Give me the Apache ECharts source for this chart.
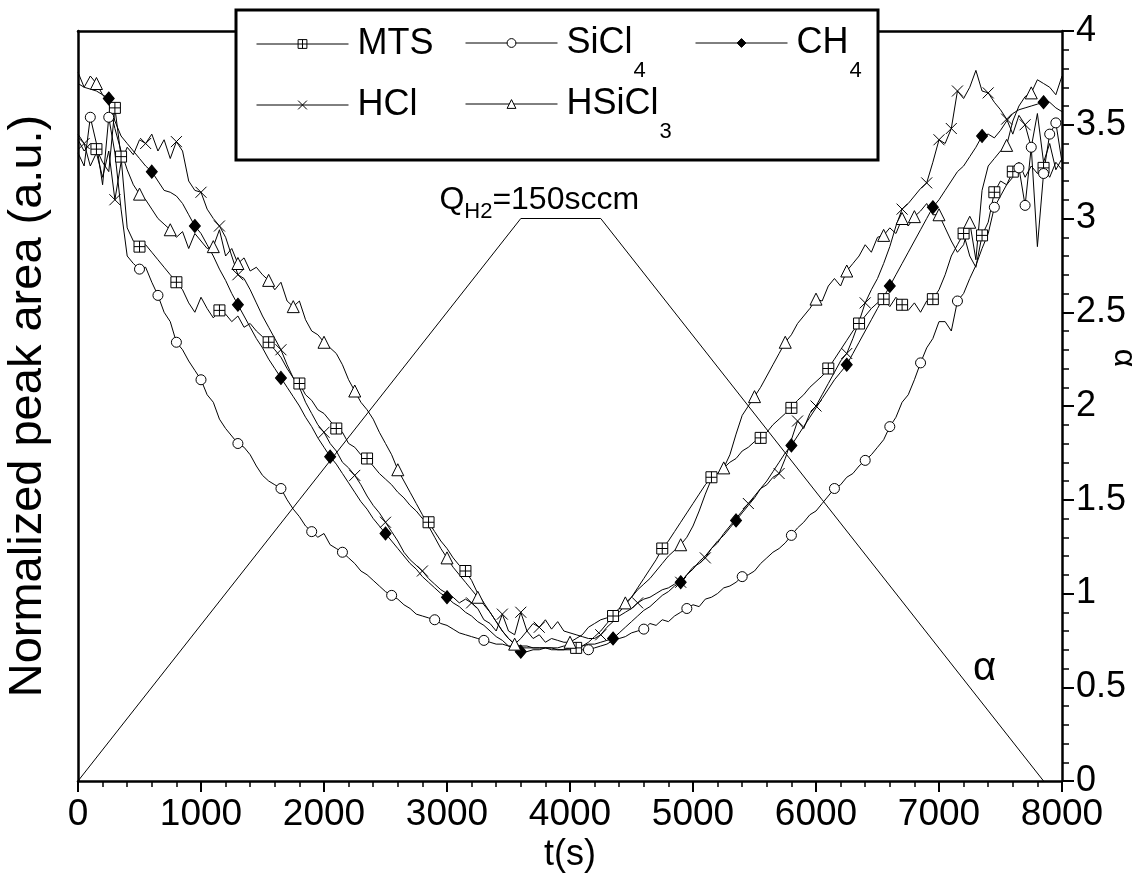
<!DOCTYPE html>
<html>
<head>
<meta charset="utf-8">
<script src="https://cdn.jsdelivr.net/npm/echarts@6/dist/echarts.min.js"></script>
<style>
  html, body { margin: 0; padding: 0; background: #fff; }
  #chart { width: 1138px; height: 877px; }
</style>
</head>
<body>
<div id="chart"></div>
<script>
// Sampling times (s)
const times = [
  0, 50, 100, 150, 200, 250, 300, 350, 400, 450,
  500, 550, 600, 650, 700, 750, 800, 850, 900, 950,
  1000, 1050, 1100, 1150, 1200, 1250, 1300, 1350, 1400, 1450,
  1500, 1550, 1600, 1650, 1700, 1750, 1800, 1850, 1900, 1950,
  2000, 2050, 2100, 2150, 2200, 2250, 2300, 2350, 2400, 2450,
  2500, 2550, 2600, 2650, 2700, 2750, 2800, 2850, 2900, 2950,
  3000, 3050, 3100, 3150, 3200, 3250, 3300, 3350, 3400, 3450,
  3500, 3550, 3600, 3650, 3700, 3750, 3800, 3850, 3900, 3950,
  4000, 4050, 4100, 4150, 4200, 4250, 4300, 4350, 4400, 4450,
  4500, 4550, 4600, 4650, 4700, 4750, 4800, 4850, 4900, 4950,
  5000, 5050, 5100, 5150, 5200, 5250, 5300, 5350, 5400, 5450,
  5500, 5550, 5600, 5650, 5700, 5750, 5800, 5850, 5900, 5950,
  6000, 6050, 6100, 6150, 6200, 6250, 6300, 6350, 6400, 6450,
  6500, 6550, 6600, 6650, 6700, 6750, 6800, 6850, 6900, 6950,
  7000, 7050, 7100, 7150, 7200, 7250, 7300, 7350, 7400, 7450,
  7500, 7550, 7600, 7650, 7700, 7750, 7800, 7850, 7900, 7950,
  8000
];

// Normalized peak areas (a.u.)
const mts = [
  3.42, 3.36, 3.40, 3.37, 3.30, 3.25, 3.59, 3.33, 2.95, 2.88,
  2.85, 2.86, 2.82, 2.78, 2.74, 2.70, 2.66, 2.62, 2.55, 2.50,
  2.58, 2.52, 2.47, 2.51, 2.49, 2.45, 2.48, 2.42, 2.44, 2.40,
  2.37, 2.34, 2.30, 2.26, 2.20, 2.15, 2.12, 2.06, 2.03, 1.98,
  1.96, 1.92, 1.88, 1.86, 1.80, 1.78, 1.74, 1.72, 1.68, 1.64,
  1.61, 1.58, 1.54, 1.51, 1.47, 1.44, 1.40, 1.38, 1.33, 1.28,
  1.24, 1.19, 1.15, 1.12, 1.07, 1.00, 0.95, 0.90, 0.85, 0.80,
  0.76, 0.73, 0.72, 0.72, 0.71, 0.71, 0.71, 0.70, 0.70, 0.70,
  0.71, 0.71, 0.72, 0.74, 0.77, 0.80, 0.84, 0.88, 0.90, 0.94,
  0.98, 1.03, 1.08, 1.13, 1.18, 1.24, 1.28, 1.33, 1.38, 1.43,
  1.48, 1.53, 1.58, 1.62, 1.64, 1.67, 1.70, 1.72, 1.76, 1.78,
  1.81, 1.83, 1.86, 1.90, 1.93, 1.96, 1.99, 2.03, 2.06, 2.10,
  2.13, 2.16, 2.20, 2.25, 2.30, 2.35, 2.40, 2.44, 2.48, 2.52,
  2.55, 2.57, 2.53, 2.58, 2.54, 2.51, 2.55, 2.50, 2.56, 2.57,
  2.62, 2.70, 2.80, 2.86, 2.92, 2.80, 2.74, 2.91, 2.98, 3.14,
  3.20, 3.18, 3.25, 3.30, 3.22, 3.28, 3.24, 3.27, 3.22, 3.30,
  3.26
];
const sicl4 = [
  3.35, 3.28, 3.54, 3.40, 3.18, 3.54, 3.35, 3.05, 2.80, 2.76,
  2.73, 2.74, 2.66, 2.59, 2.50, 2.45, 2.34, 2.30, 2.24, 2.19,
  2.14, 2.06, 2.02, 1.93, 1.88, 1.84, 1.80, 1.78, 1.74, 1.68,
  1.63, 1.60, 1.58, 1.56, 1.50, 1.45, 1.41, 1.36, 1.33, 1.30,
  1.32, 1.26, 1.24, 1.22, 1.19, 1.16, 1.12, 1.10, 1.07, 1.04,
  1.01, 0.99, 0.97, 0.94, 0.92, 0.89, 0.88, 0.87, 0.86, 0.84,
  0.83, 0.81, 0.79, 0.78, 0.77, 0.76, 0.75, 0.74, 0.73, 0.73,
  0.72, 0.72, 0.71, 0.71, 0.71, 0.71, 0.71, 0.71, 0.70, 0.70,
  0.70, 0.70, 0.70, 0.70, 0.71, 0.72, 0.73, 0.75, 0.76, 0.77,
  0.79, 0.80, 0.81, 0.84, 0.83, 0.86, 0.85, 0.88, 0.90, 0.92,
  0.94, 0.93, 0.97, 0.98, 1.00, 1.03, 1.04, 1.06, 1.09, 1.10,
  1.12, 1.16, 1.19, 1.22, 1.24, 1.27, 1.31, 1.35, 1.38, 1.42,
  1.44, 1.48, 1.52, 1.56, 1.58, 1.62, 1.64, 1.68, 1.71, 1.74,
  1.78, 1.82, 1.89, 1.94, 2.02, 2.06, 2.14, 2.23, 2.31, 2.36,
  2.45, 2.45, 2.40, 2.56, 2.60, 2.68, 2.75, 2.84, 2.92, 3.06,
  3.12, 3.18, 3.22, 3.27, 3.07, 3.38, 2.85, 3.24, 3.45, 3.51,
  3.30
];
const ch4 = [
  3.72, 3.70, 3.69, 3.68, 3.66, 3.64, 3.52, 3.44, 3.40, 3.36,
  3.32, 3.28, 3.25, 3.20, 3.15, 3.14, 3.12, 3.08, 3.02, 2.96,
  2.92, 2.86, 2.80, 2.73, 2.67, 2.60, 2.54, 2.48, 2.42, 2.36,
  2.31, 2.25, 2.20, 2.15, 2.10, 2.05, 2.00, 1.94, 1.89, 1.83,
  1.78, 1.73, 1.69, 1.64, 1.59, 1.54, 1.49, 1.45, 1.40, 1.36,
  1.32, 1.28, 1.24, 1.20, 1.16, 1.13, 1.09, 1.06, 1.03, 1.00,
  0.98, 0.95, 0.93, 0.90, 0.88, 0.85, 0.83, 0.80, 0.77, 0.75,
  0.72, 0.70, 0.69, 0.69, 0.70, 0.70, 0.71, 0.71, 0.71, 0.72,
  0.72, 0.72, 0.72, 0.73, 0.73, 0.74, 0.75, 0.76, 0.79, 0.82,
  0.85, 0.88, 0.91, 0.93, 0.96, 0.99, 1.01, 1.04, 1.06, 1.10,
  1.13, 1.17, 1.20, 1.24, 1.28, 1.31, 1.35, 1.39, 1.43, 1.47,
  1.51, 1.56, 1.60, 1.65, 1.70, 1.75, 1.79, 1.84, 1.89, 1.94,
  1.99, 2.04, 2.09, 2.14, 2.18, 2.22, 2.28, 2.34, 2.40, 2.46,
  2.52, 2.58, 2.64, 2.70, 2.76, 2.82, 2.88, 2.94, 3.00, 3.06,
  3.10, 3.15, 3.20, 3.25, 3.28, 3.33, 3.38, 3.44, 3.45, 3.43,
  3.47, 3.52, 3.56, 3.58, 3.59, 3.60, 3.61, 3.62, 3.62, 3.59,
  3.57
];
const hcl = [
  3.45, 3.40, 3.28, 3.35, 3.22, 3.36, 3.10, 3.30, 3.38, 3.34,
  3.42, 3.40, 3.45, 3.36, 3.42, 3.32, 3.41, 3.36, 3.20, 3.15,
  3.14, 3.05, 3.00, 2.96, 2.90, 2.80, 2.70, 2.68, 2.62, 2.55,
  2.48, 2.42, 2.36, 2.30, 2.22, 2.15, 2.10, 2.02, 1.96, 1.90,
  1.86, 1.80, 1.76, 1.70, 1.67, 1.63, 1.58, 1.52, 1.47, 1.43,
  1.38, 1.33, 1.28, 1.22, 1.18, 1.15, 1.12, 1.08, 1.05, 1.02,
  1.00, 0.98, 0.95, 0.97, 0.95, 0.92, 0.86, 0.84, 0.80, 0.89,
  0.80, 0.78, 0.90, 0.80, 0.84, 0.82, 0.86, 0.81, 0.85, 0.80,
  0.79, 0.78, 0.77, 0.76, 0.76, 0.78, 0.82, 0.85, 0.88, 0.90,
  0.92, 0.95, 0.97, 0.98, 1.00, 1.02, 1.03, 1.05, 1.06, 1.10,
  1.14, 1.16, 1.19, 1.24, 1.27, 1.32, 1.36, 1.40, 1.44, 1.48,
  1.52, 1.56, 1.58, 1.62, 1.64, 1.72, 1.82, 1.92, 1.88, 1.96,
  2.00, 2.06, 2.12, 2.18, 2.24, 2.28, 2.36, 2.45, 2.55, 2.62,
  2.68, 2.76, 2.85, 2.96, 3.05, 3.08, 3.12, 3.16, 3.19, 3.30,
  3.42, 3.40, 3.48, 3.68, 3.64, 3.70, 3.79, 3.68, 3.67, 3.62,
  3.58, 3.53, 3.45, 3.55, 3.50, 3.38, 3.56, 3.30, 3.40, 3.26,
  3.32
];
const hsicl3 = [
  3.78, 3.70, 3.76, 3.72, 3.66, 3.62, 3.48, 3.36, 3.26, 3.18,
  3.13, 3.10, 3.05, 3.00, 2.97, 2.94, 2.90, 2.93, 2.84, 2.92,
  2.88, 2.84, 2.85, 2.94, 2.80, 2.84, 2.76, 2.79, 2.72, 2.74,
  2.70, 2.67, 2.62, 2.66, 2.56, 2.53, 2.56, 2.46, 2.40, 2.38,
  2.34, 2.31, 2.28, 2.22, 2.14, 2.08, 2.02, 1.98, 1.93, 1.86,
  1.80, 1.74, 1.66, 1.60, 1.54, 1.48, 1.42, 1.36, 1.30, 1.24,
  1.19, 1.14, 1.10, 1.06, 1.02, 0.98, 0.94, 0.90, 0.85, 0.80,
  0.76, 0.73, 0.76, 0.80, 0.76, 0.78, 0.74, 0.76, 0.75, 0.74,
  0.74, 0.76, 0.78, 0.82, 0.84, 0.86, 0.87, 0.89, 0.92, 0.95,
  0.98, 1.02, 1.05, 1.08, 1.12, 1.16, 1.20, 1.23, 1.26, 1.30,
  1.36, 1.44, 1.53, 1.61, 1.64, 1.67, 1.74, 1.85, 1.95, 2.00,
  2.05, 2.10, 2.16, 2.22, 2.28, 2.34, 2.38, 2.44, 2.48, 2.52,
  2.57, 2.56, 2.64, 2.68, 2.64, 2.72, 2.76, 2.80, 2.86, 2.82,
  2.90, 2.91, 2.95, 2.92, 3.00, 2.96, 3.01, 3.04, 3.08, 3.02,
  3.02, 2.95, 2.88, 2.82, 2.86, 2.98, 2.78, 3.15, 3.28, 3.32,
  3.36, 3.39, 3.52, 3.60, 3.65, 3.67, 3.74, 3.72, 3.70, 3.66,
  3.76
];

// Times at which each curve carries a symbol
const mtsMarks = [150, 300, 350, 500, 800, 1150, 1550, 1800, 2100, 2350, 2850, 3150, 4050, 4350, 4750, 5150, 5550, 5800, 6100, 6350, 6550, 6700, 6950, 7200, 7350, 7450, 7600, 7850];
const sicl4Marks = [100, 250, 500, 650, 800, 1000, 1300, 1650, 1900, 2150, 2550, 2900, 3300, 4150, 4600, 4950, 5400, 5800, 6150, 6400, 6600, 6850, 7150, 7450, 7650, 7700, 7750, 7850, 7900, 7950];
const ch4Marks = [250, 600, 950, 1300, 1650, 2050, 2500, 3000, 3600, 4350, 4900, 5350, 5800, 6250, 6600, 6950, 7350, 7850];
const hclMarks = [50, 300, 550, 800, 1000, 1150, 1300, 1650, 2000, 2250, 2500, 2800, 3200, 3450, 3600, 3750, 4250, 4550, 4900, 5100, 5450, 5700, 5850, 6000, 6250, 6400, 6700, 6900, 7000, 7100, 7150, 7400, 7550, 7700];
const hsicl3Marks = [150, 500, 750, 1100, 1300, 1550, 1750, 2000, 2250, 2600, 3000, 3250, 3550, 4000, 4450, 4900, 5250, 5500, 5750, 6000, 6250, 6550, 6700, 6800, 7000, 7250, 7550, 7750];

// H2 flow ratio alpha (right axis)
const alphaT = [0, 3600, 4250, 7850];
const alphaV = [0, 3, 3, 0];

// Axis ticks
const xTicks = { min: 0, max: 8000, step: 1000 };
const yTicks = { min: 0, max: 4, step: 0.5 };

const FONT = '"Liberation Sans", Arial, Helvetica, sans-serif';

const SYM_MTS = 'path://M0,0H10V10H0Z M5,0V10 M0,5H10';
const SYM_X = 'path://M0,0L10,10M10,0L0,10';

function buildData(values, marks) {
  return times.map((t, i) =>
    marks.indexOf(t) >= 0 ? [t, values[i]] : { value: [t, values[i]], symbol: 'none' }
  );
}

function gasSeries(name, values, marks, symbol, size, fill) {
  return {
    name: name,
    type: 'line',
    xAxisIndex: 0,
    yAxisIndex: 0,
    data: buildData(values, marks),
    symbol: symbol,
    symbolSize: size,
    showSymbol: true,
    showAllSymbol: true,
    lineStyle: { color: '#000', width: 1 },
    itemStyle: { color: fill, borderColor: '#000', borderWidth: 1 },
    z: 3
  };
}

const series = [
  gasSeries('MTS', mts, mtsMarks, SYM_MTS, 11, '#fff'),
  gasSeries('SiCl4', sicl4, sicl4Marks, 'circle', 10, '#fff'),
  gasSeries('CH4', ch4, ch4Marks, 'diamond', [11, 13], '#000'),
  gasSeries('HCl', hcl, hclMarks, SYM_X, 11, '#fff'),
  gasSeries('HSiCl3', hsicl3, hsicl3Marks, 'triangle', 12, '#fff'),
  {
    name: 'alpha',
    type: 'line',
    xAxisIndex: 0,
    yAxisIndex: 1,
    data: alphaT.map((t, i) => [t, alphaV[i]]),
    symbol: 'none',
    lineStyle: { color: '#000', width: 1 },
    z: 2,
    markPoint: {
      symbol: 'rect',
      symbolSize: 1,
      itemStyle: { color: 'rgba(0,0,0,0)' },
      label: {
        show: true,
        position: 'inside',
        color: '#000',
        fontFamily: FONT,
        rich: {
          q: { fontSize: 32, lineHeight: 36, fontFamily: FONT, color: '#000', verticalAlign: 'middle' },
          s: { fontSize: 22, lineHeight: 24, padding: [24, 0, 0, 0], fontFamily: FONT, color: '#000', verticalAlign: 'middle' },
          a: { fontSize: 40, lineHeight: 44, fontFamily: FONT, color: '#000' }
        }
      },
      data: [
        { coord: [3750, 3.1], label: { formatter: '{q|Q}{s|H2}{q|=150sccm}' } },
        { coord: [7370, 0.6], label: { formatter: '{a|α}' } }
      ]
    }
  }
];

// Legend entries, laid out in three columns
const legendText = {
  'MTS': '{m|MTS}',
  'SiCl4': '{m|SiCl}{u|4}',
  'CH4': '{m|CH}{u|4}',
  'HCl': '{m|HCl}',
  'HSiCl3': '{m|HSiCl}{u|3}'
};
const legendRich = {
  m: { fontSize: 36, lineHeight: 36, fontFamily: FONT, color: '#000', padding: [0, 0, 0, 4], verticalAlign: 'middle' },
  u: { fontSize: 22, lineHeight: 24, fontFamily: FONT, color: '#000', padding: [56, 0, 0, 1], verticalAlign: 'middle' }
};
const legendSlots = [
  { name: 'MTS', left: 256, top: 26, fill: '#fff' },
  { name: 'SiCl4', left: 465, top: 4, fill: '#fff' },
  { name: 'CH4', left: 695, top: 4, fill: '#000' },
  { name: 'HCl', left: 256, top: 87, fill: '#fff' },
  { name: 'HSiCl3', left: 465, top: 65, fill: '#fff' }
];
const legends = legendSlots.map(s => ({
  data: [s.name],
  left: s.left,
  top: s.top,
  padding: 0,
  itemWidth: 92,
  itemHeight: 11,
  selectedMode: false,
  z: 10,
  formatter: n => legendText[n],
  textStyle: { rich: legendRich, fontFamily: FONT, fontSize: 36, color: '#000' },
  itemStyle: { color: s.fill, borderColor: '#000', borderWidth: 1 },
  lineStyle: { color: '#000', width: 1 }
}));

const axisLineStyle = { color: '#000', width: 2.5 };
const plainNumber = v => String(v);

const option = {
  animation: false,
  backgroundColor: '#fff',
  grid: { left: 78, right: 76, top: 31, bottom: 96, containLabel: false, outerBoundsMode: 'none' },
  legend: legends,
  graphic: [
    {
      type: 'rect',
      z: 9,
      shape: { x: 236, y: 10, width: 642, height: 150 },
      style: { fill: '#fff', stroke: '#000', lineWidth: 3 }
    }
  ],
  xAxis: [
    {
      type: 'value',
      position: 'bottom',
      min: xTicks.min,
      max: xTicks.max,
      interval: xTicks.step,
      name: 't(s)',
      nameLocation: 'middle',
      nameGap: 56,
      nameMoveOverlap: false,
      nameTextStyle: { fontSize: 36, fontFamily: FONT, color: '#000' },
      axisLine: { show: true, onZero: false, lineStyle: axisLineStyle },
      axisTick: { show: true, inside: false, length: 11, lineStyle: { color: '#000', width: 2 } },
      minorTick: { show: true, splitNumber: 5, length: 6, lineStyle: { color: '#000', width: 1.5 } },
      axisLabel: { fontSize: 37, fontFamily: FONT, color: '#000', margin: 15, formatter: plainNumber },
      splitLine: { show: false },
      minorSplitLine: { show: false }
    },
    {
      type: 'value',
      position: 'top',
      min: xTicks.min,
      max: xTicks.max,
      axisLine: { show: true, onZero: false, lineStyle: axisLineStyle },
      axisTick: { show: false },
      axisLabel: { show: false },
      splitLine: { show: false }
    }
  ],
  yAxis: [
    {
      type: 'value',
      position: 'left',
      min: yTicks.min,
      max: yTicks.max,
      interval: yTicks.step,
      name: 'Normalized peak area (a.u.)',
      nameLocation: 'middle',
      nameGap: 26,
      nameMoveOverlap: false,
      nameTextStyle: { fontSize: 47, fontFamily: FONT, color: '#000' },
      axisLine: { show: true, onZero: false, lineStyle: axisLineStyle },
      axisTick: { show: false },
      axisLabel: { show: false },
      splitLine: { show: false }
    },
    {
      type: 'value',
      position: 'right',
      min: yTicks.min,
      max: yTicks.max,
      interval: yTicks.step,
      name: 'α',
      nameLocation: 'middle',
      nameGap: 46,
      nameRotate: -90,
      nameMoveOverlap: false,
      nameTextStyle: { fontSize: 32, fontFamily: FONT, color: '#000', padding: [0, 96, 0, 0] },
      axisLine: { show: true, onZero: false, lineStyle: axisLineStyle },
      axisTick: { show: true, inside: false, length: 12, lineStyle: { color: '#000', width: 2 } },
      minorTick: { show: true, splitNumber: 5, length: 7, lineStyle: { color: '#000', width: 1.5 } },
      axisLabel: { fontSize: 36, fontFamily: FONT, color: '#000', margin: 14, formatter: plainNumber },
      splitLine: { show: false },
      minorSplitLine: { show: false }
    }
  ],
  series: series
};

const chart = echarts.init(document.getElementById('chart'), null, { renderer: 'canvas' });
chart.setOption(option);
</script>
</body>
</html>
